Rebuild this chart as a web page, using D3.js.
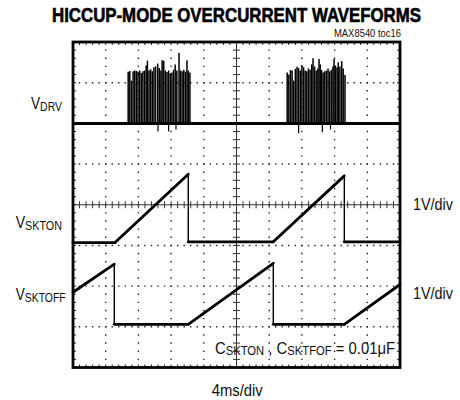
<!DOCTYPE html>
<html><head><meta charset="utf-8">
<script src="https://cdn.jsdelivr.net/npm/d3@7"></script>
<style>body{margin:0;background:#fff}svg{display:block}text{font-family:"Liberation Sans",Arial,sans-serif;fill:#111}</style>
</head><body><svg id="c" width="460" height="400"></svg>
<script>
// time axis in ms (4ms/div, 10 div), vertical in divisions (8 div)
const xTicksMajor = [0,4,8,12,16,20,24,28,32,36,40];
const yTicksMajor = [0,1,2,3,4,5,6,7,8];
const vdrvBase = 6.0;
const burst1 = [[6.75,7.27],[6.95,7.29],[7.15,7.05],[7.35,7.28],[7.55,7.30],[7.75,7.29],[7.95,7.27],[8.15,7.30],[8.35,7.24],[8.55,7.28],[8.75,7.30],[8.95,7.42],[9.1,7.54],[9.3,7.30],[9.5,7.33],[9.7,7.28],[9.9,7.38],[10.1,7.40],[10.36,7.47],[10.55,7.36],[10.75,7.30],[10.9,7.55],[11.1,7.54],[11.3,7.30],[11.5,7.26],[11.7,7.30],[11.9,7.23],[12.1,7.25],[12.3,7.32],[12.5,7.45],[12.7,7.30],[12.97,7.73],[13.15,7.30],[13.35,7.28],[13.55,7.32],[13.75,7.27],[13.94,7.55],[14.1,7.30],[14.3,7.25]];
const burst2 = [[26.2,7.25],[26.4,7.20],[26.6,7.31],[26.8,7.30],[27.0,7.05],[27.2,7.34],[27.4,7.39],[27.6,7.36],[27.8,7.30],[28.0,7.43],[28.2,7.38],[28.4,7.30],[28.6,7.28],[28.8,7.35],[29.0,7.32],[29.2,7.45],[29.36,7.60],[29.55,7.40],[29.75,7.30],[29.95,7.35],[30.1,7.58],[30.25,7.45],[30.42,7.31],[30.6,7.25],[30.8,7.28],[31.0,7.30],[31.2,7.35],[31.4,7.28],[31.6,7.32],[31.8,7.40],[31.93,7.58],[32.1,7.42],[32.3,7.38],[32.45,7.50],[32.65,7.40],[32.87,7.53],[33.05,7.35],[33.27,7.19]];
const glitches = [[10.4,5.80],[11.7,5.80],[12.6,5.85],[27.6,5.76],[30.5,5.78],[31.5,5.85]];
const vskton = [[0,3.07],[5.14,3.07],[14.1,4.75],[14.1,3.09],[24.5,3.09],[33.19,4.71],[33.19,3.09],[40,3.09]];
const vsktoff = [[0,1.85],[5.05,2.54],[5.05,1.06],[14.1,1.06],[24.5,2.56],[24.5,1.06],[33.19,1.06],[40,2.04]];

const svg = d3.select("#c");
const x = d3.scaleLinear().domain([0,40]).range([73,400]);
const y = d3.scaleLinear().domain([0,8]).range([367.5,42]);
const minorX = d3.range(0,40.001,0.8);
const minorY = d3.range(0,8.001,0.2);
const g = svg.append("g");

// dotted grid
const dx = x(0.8)-x(0), dy = y(0)-y(0.2);
xTicksMajor.filter(t=>t>0&&t<40&&t!==20).forEach(t=>{
  g.append("line").attr("x1",x(t)).attr("x2",x(t)).attr("y1",y(8)).attr("y2",y(0))
   .attr("stroke","#222").attr("stroke-width",1.4).attr("stroke-dasharray",`1.4,${(dy-1.4).toFixed(3)}`).attr("stroke-dashoffset",0.7);
});
yTicksMajor.filter(v=>v>0&&v<8&&v!==4).forEach(v=>{
  g.append("line").attr("x1",x(0)).attr("x2",x(40)).attr("y1",y(v)).attr("y2",y(v))
   .attr("stroke","#222").attr("stroke-width",1.4).attr("stroke-dasharray",`1.4,${(dx-1.4).toFixed(3)}`).attr("stroke-dashoffset",0.7);
});
// center crosshair
g.append("line").attr("x1",x(20)).attr("x2",x(20)).attr("y1",y(8)).attr("y2",y(0)).attr("stroke","#333").attr("stroke-width",1);
g.append("line").attr("x1",x(0)).attr("x2",x(40)).attr("y1",y(4)).attr("y2",y(4)).attr("stroke","#333").attr("stroke-width",1);
minorX.forEach(t=>{
  g.append("line").attr("x1",x(t)).attr("x2",x(t)).attr("y1",y(4)-3.5).attr("y2",y(4)+3.5).attr("stroke","#333").attr("stroke-width",1);
  g.append("line").attr("x1",x(t)).attr("x2",x(t)).attr("y1",y(8)).attr("y2",y(8)+3).attr("stroke","#222").attr("stroke-width",1);
  g.append("line").attr("x1",x(t)).attr("x2",x(t)).attr("y1",y(0)).attr("y2",y(0)-3).attr("stroke","#222").attr("stroke-width",1);
});
minorY.forEach(v=>{
  g.append("line").attr("x1",x(20)-3.5).attr("x2",x(20)+3.5).attr("y1",y(v)).attr("y2",y(v)).attr("stroke","#333").attr("stroke-width",1);
  g.append("line").attr("x1",x(0)).attr("x2",x(0)+3).attr("y1",y(v)).attr("y2",y(v)).attr("stroke","#222").attr("stroke-width",1);
  g.append("line").attr("x1",x(40)).attr("x2",x(40)-3).attr("y1",y(v)).attr("y2",y(v)).attr("stroke","#222").attr("stroke-width",1);
});

// traces
const tr = svg.append("g");
tr.append("line").attr("x1",x(0)).attr("x2",x(40)).attr("y1",y(vdrvBase)).attr("y2",y(vdrvBase)).attr("stroke","#000").attr("stroke-width",3);
[burst1,burst2].forEach(b=>b.forEach(([t,v])=>{
  tr.append("line").attr("x1",x(t)).attr("x2",x(t)).attr("y1",y(vdrvBase)).attr("y2",y(v)).attr("stroke","#000").attr("stroke-width",1.5);
}));
glitches.forEach(([t,v])=>{
  tr.append("line").attr("x1",x(t)).attr("x2",x(t)).attr("y1",y(vdrvBase)).attr("y2",y(v)).attr("stroke","#000").attr("stroke-width",1.2);
});
const line = d3.line().x(d=>x(d[0])).y(d=>y(d[1]));
[vskton,vsktoff].forEach(s=>{
  tr.append("path").attr("d",line(s)).attr("fill","none").attr("stroke","#000").attr("stroke-width",1.4);
  for(let i=1;i<s.length;i++){
    if(s[i][0]!==s[i-1][0]) tr.append("path").attr("d",line([s[i-1],s[i]])).attr("fill","none").attr("stroke","#000").attr("stroke-width",2.8).attr("stroke-linecap","round");
  }
});

// frame
svg.append("rect").attr("x",x(0)).attr("y",y(8)).attr("width",x(40)-x(0)).attr("height",y(0)-y(8))
  .attr("fill","none").attr("stroke","#000").attr("stroke-width",2.8);

// texts
svg.append("text").attr("x",52).attr("y",21.5).attr("font-size",19.5).attr("font-weight","bold")
  .attr("textLength",369).attr("lengthAdjust","spacingAndGlyphs").style("fill","#000")
  .style("stroke","#000").style("stroke-width",0.6).text("HICCUP-MODE OVERCURRENT WAVEFORMS");
svg.append("text").attr("x",334).attr("y",37).attr("font-size",10.5)
  .attr("textLength",67).attr("lengthAdjust","spacingAndGlyphs").text("MAX8540 toc16");
function sublabel(xp, yp, main, sub, len){
  const t = svg.append("text").attr("x",xp).attr("y",yp).attr("font-size",17).attr("textLength",len).attr("lengthAdjust","spacingAndGlyphs");
  t.append("tspan").text(main);
  t.append("tspan").attr("font-size",13).attr("dy",2).text(sub);
}
sublabel(31,109,"V","DRV",31);
sublabel(15.7,228,"V","SKTON",46.3);
sublabel(15.7,300,"V","SKTOFF",50);
svg.append("text").attr("x",413).attr("y",210).attr("font-size",16.5).attr("textLength",40).attr("lengthAdjust","spacingAndGlyphs").text("1V/div");
svg.append("text").attr("x",413).attr("y",299).attr("font-size",16.5).attr("textLength",40).attr("lengthAdjust","spacingAndGlyphs").text("1V/div");
const c = svg.append("text").attr("x",215).attr("y",353.5).attr("font-size",16.5).attr("textLength",180).attr("lengthAdjust","spacingAndGlyphs");
c.append("tspan").text("C");
c.append("tspan").attr("font-size",12.5).attr("dy",1.5).text("SKTON");
c.append("tspan").attr("dy",-1.5).text(" , C");
c.append("tspan").attr("font-size",12.5).attr("dy",1.5).text("SKTFOF");
c.append("tspan").attr("dy",-1.5).text(" = 0.01μF");
svg.append("text").attr("x",211.7).attr("y",396).attr("font-size",17).attr("textLength",51).attr("lengthAdjust","spacingAndGlyphs").text("4ms/div");
</script></body></html>
